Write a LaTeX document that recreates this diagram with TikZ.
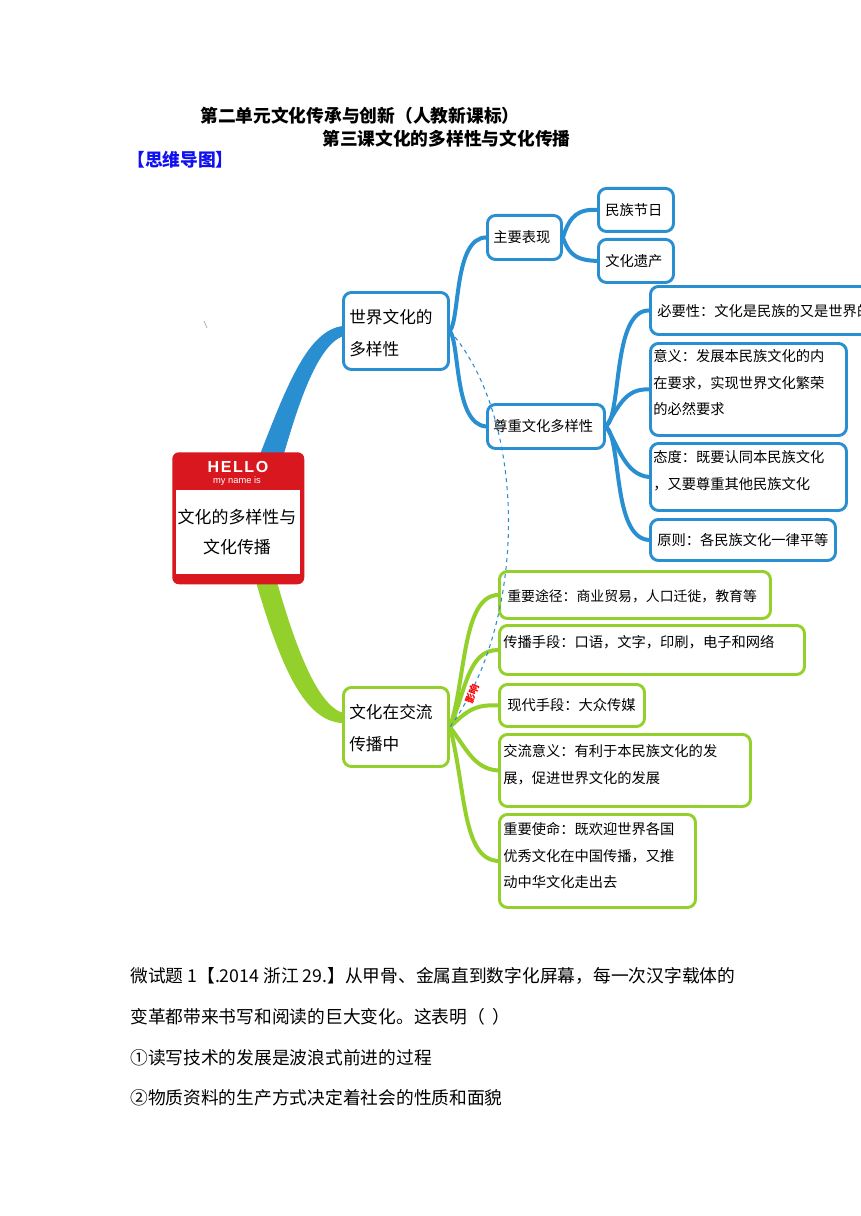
\documentclass[tikz,border=0pt]{standalone}
\usepackage{fontspec}
\setmainfont{Noto Sans CJK SC}
\newfontfamily\hellofont[LetterSpace=10]{Liberation Sans}
\newfontfamily\latinsans{Liberation Sans}
\usetikzlibrary{calc}
\definecolor{mblue}{HTML}{2A8FD0}
\definecolor{mgreen}{HTML}{94D02C}
\definecolor{bred}{HTML}{D8171E}
\definecolor{tblue}{HTML}{1010F0}
\tikzset{
  sz/.style 2 args={minimum width={#1*0.75pt}, minimum height={#2*0.75pt}},
  bbox/.style={draw=mblue, line width=2.2pt, rounded corners=6pt, fill=white, inner sep=0pt, anchor=north west},
  gbox/.style={draw=mgreen, line width=2.2pt, rounded corners=6pt, fill=white, inner sep=0pt, anchor=north west},
  big/.style={font=\fontsize{12.5}{24}\selectfont, align=left, inner sep=0pt},
  small/.style={font=\fontsize{10.7}{20}\selectfont, align=left, inner sep=0pt},
  bline/.style={draw=mblue, line width=3pt, line cap=round},
  gline/.style={draw=mgreen, line width=3pt, line cap=round},
  body/.style={font=\fontsize{13.3}{16}\selectfont, anchor=west, inner sep=0pt},
}
\begin{document}
\begin{tikzpicture}[x=0.75pt,y=-0.75pt]
\useasboundingbox (0,0) rectangle (860,1216);
\fill[white] (0,0) rectangle (860,1216);

% header
\node[body, font=\fontsize{13.3}{16}\selectfont\bfseries] (t1) at (200,116) {第二单元文化传承与创新（人教新课标）};
\node[body, font=\fontsize{13.3}{16}\selectfont\bfseries] (t2) at (322,139) {第三课文化的多样性与文化传播};
\node[body, font=\fontsize{13.3}{16}\selectfont\bfseries, text=tblue] (t3) at (127,160) {【思维导图】};

% stray mark
\draw[gray!60, line width=0.6pt] (204,321) -- (207,328);

% thick main branches
\fill[mblue] (259,457) .. controls (287,385) and (308,330) .. (343,326)
  -- (343,336) .. controls (318,346) and (300,398) .. (283,457) -- cycle;
\fill[mgreen] (256,582) .. controls (281,668) and (305,722) .. (343,723)
  -- (343,713) .. controls (318,705) and (297,652) .. (277,582) -- cycle;

% badge
\node[fill=bred, rounded corners=5pt, sz={132}{132}, anchor=north west, inner sep=0pt] (badge) at (172,452) {};
\fill[white] (176,490) rectangle (300,574);
\node[text=white, inner sep=0pt, font=\hellofont\fontsize{12}{12}\selectfont\bfseries] (hello) at (238,467) {HELLO};
\node[text=white, inner sep=0pt, font=\latinsans\fontsize{7}{7}\selectfont] (myname) at (237,481) {my name is};
\node[align=center, inner sep=0pt, font=\fontsize{12.7}{22.5}\selectfont] (badgetxt) at (237,532) {文化的多样性与\\文化传播};

% blue boxes
\node[bbox, sz={105}{77}] (world) at (342,291) {};
\node[big, anchor=north west] (worldt) at (349,309) {世界文化的\\多样性};
\node[bbox, sz={74}{44}] (zhuyao) at (486,214) {};
\node[small, anchor=west] (zhuyaot) at (493,237) {主要表现};
\node[bbox, sz={75}{43}] (jieri) at (597,187) {};
\node[small, anchor=west] (jierit) at (605,210) {民族节日};
\node[bbox, sz={75}{43}] (yichan) at (597,238) {};
\node[small, anchor=west] (yichant) at (605,261) {文化遗产};
\node[bbox, sz={117}{44}] (zunzhong) at (486,403) {};
\node[small, anchor=west] (zunzhongt) at (493,426) {尊重文化多样性};
\node[bbox, sz={240}{48}] (biyao) at (649,285) {};
\node[small, anchor=west] (biyaot) at (657,311) {必要性：文化是民族的又是世界的};
\node[bbox, sz={196}{92}] (yiyi) at (649,342) {};
\node[small, anchor=north west] (yiyit) at (653,349) {意义：发展本民族文化的内\\在要求，实现世界文化繁荣\\的必然要求};
\node[bbox, sz={196}{67}] (taidu) at (649,442) {};
\node[small, anchor=north west] (taidut) at (653,450) {态度：既要认同本民族文化\\，又要尊重其他民族文化};
\node[bbox, sz={185}{41}] (yuanze) at (649,518) {};
\node[small, anchor=west] (yuanzet) at (657,540) {原则：各民族文化一律平等};

% green boxes
\node[gbox, sz={105}{79}] (jiaoliu) at (342,686) {};
\node[big, anchor=north west] (jiaoliut) at (349,704.5) {文化在交流\\传播中};
\node[gbox, sz={271}{47}] (g1) at (498,570) {};
\node[small, anchor=west, font=\fontsize{10.4}{20}\selectfont] (g1t) at (507,596) {重要途径：商业贸易，人口迁徙，教育等};
\node[gbox, sz={305}{49}] (g2) at (498,624) {};
\node[small, anchor=west] (g2t) at (503,642) {传播手段：口语，文字，印刷，电子和网络};
\node[gbox, sz={145}{42}] (g3) at (498,683) {};
\node[small, anchor=west] (g3t) at (507,705) {现代手段：大众传媒};
\node[gbox, sz={251}{72}] (g4) at (498,733) {};
\node[small, anchor=north west] (g4t) at (503,744) {交流意义：有利于本民族文化的发\\展，促进世界文化的发展};
\node[gbox, sz={196}{93}] (g5) at (498,813) {};
\node[small, anchor=north west] (g5t) at (503,822) {重要使命：既欢迎世界各国\\优秀文化在中国传播，又推\\动中华文化走出去};

% blue connectors
\draw[bline] (world.east) .. controls (460,318) and (454,238) .. (zhuyao.west);
\draw[bline] (world.east) .. controls (460,345) and (454,424) .. (zunzhong.west);
\draw[bline] (zhuyao.east) .. controls (570,214) and (580,209) .. (jieri.west);
\draw[bline] (zhuyao.east) .. controls (570,258) and (580,260) .. (yichan.west);
\draw[bline] (zunzhong.east) .. controls (622,415) and (612,310) .. (biyao.west);
\draw[bline] (zunzhong.east) .. controls (618,408) and (625,388) .. (yiyi.west);
\draw[bline] (zunzhong.east) .. controls (618,445) and (625,475) .. (taidu.west);
\draw[bline] (zunzhong.east) .. controls (622,440) and (612,538) .. (yuanze.west);

% green connectors
\draw[gline] (jiaoliu.east) .. controls (466,680) and (462,596) .. (g1.west);
\draw[gline] (jiaoliu.east) .. controls (466,690) and (468,650) .. (g2.west);
\draw[gline] (jiaoliu.east) .. controls (466,712) and (474,704) .. (g3.west);
\draw[gline] (jiaoliu.east) .. controls (466,748) and (474,769) .. (g4.west);
\draw[gline] (jiaoliu.east) .. controls (466,790) and (462,859) .. (g5.west);

% dashed relation
\draw[mblue, dashed, line width=0.8pt] (world.east) .. controls (528,420) and (528,620) .. (jiaoliu.east);
\node[text=red, rotate=70, inner sep=0pt, font=\fontsize{7.5}{7.5}\selectfont\bfseries] (rel) at (472,694) {影响};

% question text
\node[body] (q1) at (130,976) {微试题 1【.2014 浙江 29.】从甲骨、金属直到数字化屏幕，每一次汉字载体的};
\node[body] (q2) at (130,1017) {变革都带来书写和阅读的巨大变化。这表明（\ \ ）};
\node[body] (q3) at (130,1058) {①读写技术的发展是波浪式前进的过程};
\node[body] (q4) at (130,1098) {②物质资料的生产方式决定着社会的性质和面貌};
\end{tikzpicture}
\end{document}
